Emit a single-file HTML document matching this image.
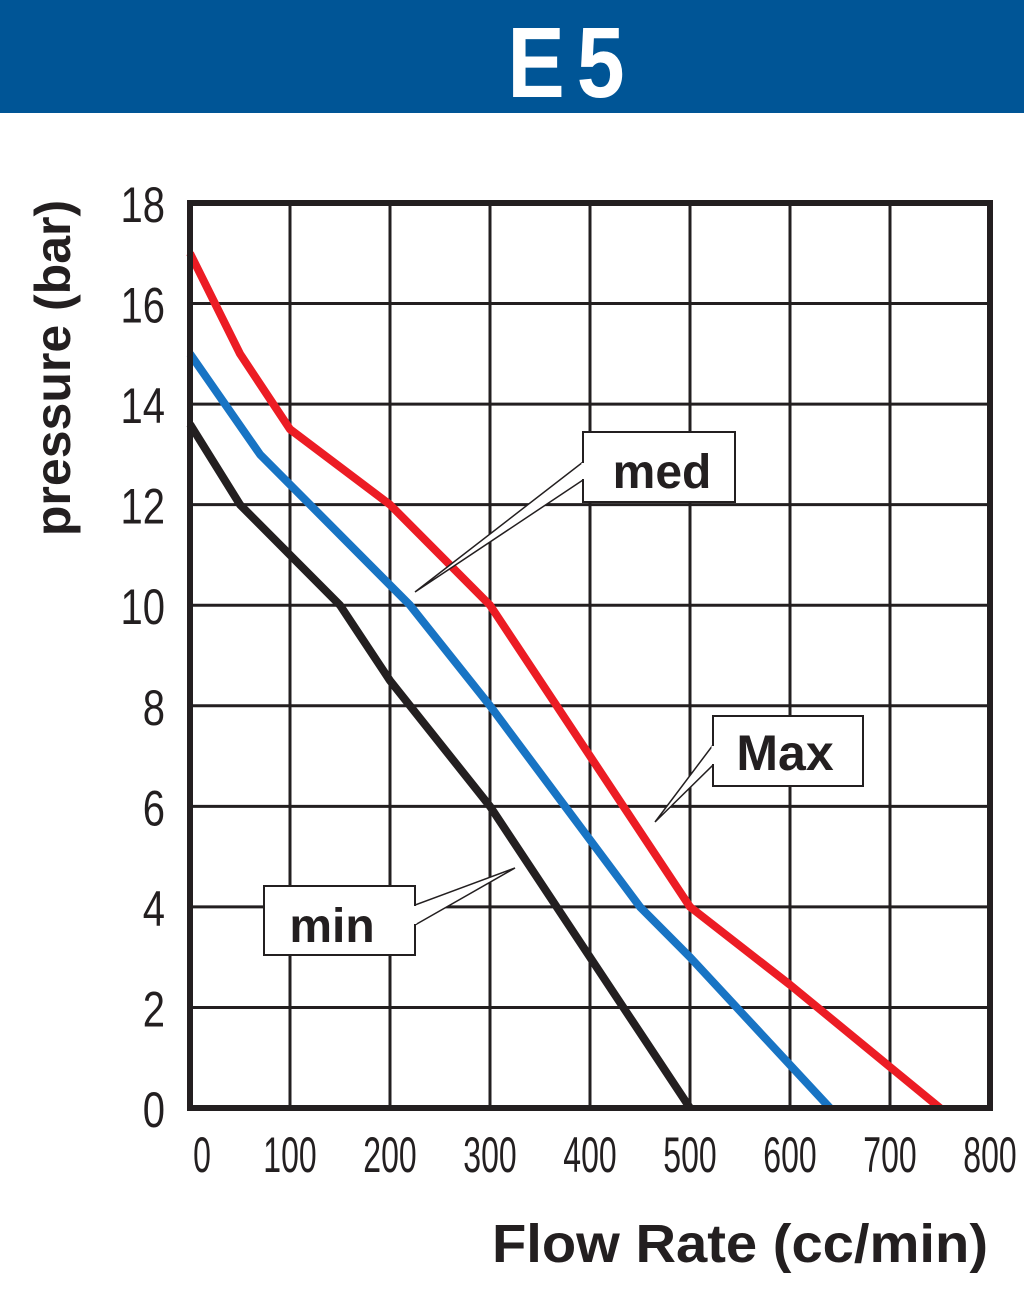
<!DOCTYPE html>
<html><head><meta charset="utf-8"><style>
html,body{margin:0;padding:0;background:#fff;width:1024px;height:1299px;overflow:hidden}
svg{display:block}
text{font-family:"Liberation Sans",sans-serif}
</style></head><body>
<svg id="chart" width="1024" height="1299" viewBox="0 0 1024 1299" xmlns="http://www.w3.org/2000/svg">
<rect x="0" y="0" width="1024" height="113" fill="#005596"/>
<text x="572" y="97" text-anchor="middle" fill="#fff" font-size="100" font-weight="bold" transform="translate(572 0) scale(0.86 1) translate(-572 0)" letter-spacing="14">E5</text>
<g id="grid"></g>
<g id="ticks"></g>
<g id="series"></g>
<rect x="190" y="203" width="800" height="905" fill="none" stroke="#231f20" stroke-width="6"/>
<text transform="translate(70 368) rotate(-90)" text-anchor="middle" font-size="50" font-weight="bold" fill="#231f20">pressure (bar)</text>
<text x="0" y="0" transform="translate(740 1262) scale(1.04 1)" text-anchor="middle" font-size="54" font-weight="bold" fill="#231f20">Flow Rate (cc/min)</text>
<g>
<polygon points="583,462 583,480 415,592" fill="#fff" stroke="#231f20" stroke-width="1.5"/>
<rect x="583" y="432" width="152" height="70" fill="#fff" stroke="#231f20" stroke-width="2"/>
<line x1="583" y1="463" x2="583" y2="479" stroke="#fff" stroke-width="3"/>
<text x="662" y="488" text-anchor="middle" font-size="48" font-weight="bold" fill="#231f20">med</text>
</g>
<g>
<polygon points="713,745 713,765 655,822" fill="#fff" stroke="#231f20" stroke-width="1.5"/>
<rect x="713" y="716" width="150" height="70" fill="#fff" stroke="#231f20" stroke-width="2"/>
<line x1="713" y1="746" x2="713" y2="764" stroke="#fff" stroke-width="3"/>
<text x="785" y="770" text-anchor="middle" font-size="50" font-weight="bold" fill="#231f20">Max</text>
</g>
<g>
<polygon points="415,905 415,925 515,868" fill="#fff" stroke="#231f20" stroke-width="1.5"/>
<rect x="264" y="886" width="151" height="69" fill="#fff" stroke="#231f20" stroke-width="2"/>
<line x1="415" y1="906" x2="415" y2="924" stroke="#fff" stroke-width="3"/>
<text x="332" y="942" text-anchor="middle" font-size="48" font-weight="bold" fill="#231f20">min</text>
</g>
</svg>
<script>
const xTicks=[0,100,200,300,400,500,600,700,800];
const yTicks=[0,2,4,6,8,10,12,14,16,18];
const maxFlow=[0,50,100,200,300,400,500,600,750];
const maxPressure=[17,15,13.5,12,10,7,4,2.45,0];
const medFlow=[0,70,220,300,450,500,640];
const medPressure=[15,13,10,8,4,3,0];
const minFlow=[0,50,150,200,300,400,500];
const minPressure=[13.6,12,10,8.5,6,3,0];
const NS="http://www.w3.org/2000/svg";
const X=v=>190+v*1.0;
const Y=v=>1108-v*(905/18);
const grid=document.getElementById('grid'),ticks=document.getElementById('ticks'),series=document.getElementById('series');
function mk(tag,attrs,parent){const e=document.createElementNS(NS,tag);for(const k in attrs)e.setAttribute(k,attrs[k]);parent.appendChild(e);return e;}
xTicks.forEach(t=>{
 const l=mk('line',{x1:X(t),x2:X(t),y1:Y(0),y2:Y(18),stroke:'#231f20','stroke-width':3},grid);
 
 
 const tx=mk('text',{x:0,y:0,'text-anchor':'middle','font-size':50,fill:'#231f20',transform:`translate(${X(t)+(t===0?12:0)} 1172) scale(0.64 1)`},ticks);
 tx.textContent=t;
 
 
});
yTicks.forEach(t=>{
 const l=mk('line',{x1:X(0),x2:X(800),y1:Y(t),y2:Y(t),stroke:'#231f20','stroke-width':3},grid);
 
 
 const tx=mk('text',{x:0,y:0,'text-anchor':'end','font-size':50,fill:'#231f20',transform:`translate(165 ${Y(t)+19}) scale(0.8 1)`},ticks);
 tx.textContent=t;
 
 
});
function line(xs,ys,color,name){
 const p=mk('polyline',{points:xs.map((x,i)=>X(x)+','+Y(ys[i])).join(' '),fill:'none',stroke:color,'stroke-width':8,'stroke-linejoin':'round'},series);
 
 
}
line(minFlow,minPressure,'#231f20','series-min');
line(medFlow,medPressure,'#1874c4','series-med');
line(maxFlow,maxPressure,'#ec1c24','series-max');
</script>
</body></html>
